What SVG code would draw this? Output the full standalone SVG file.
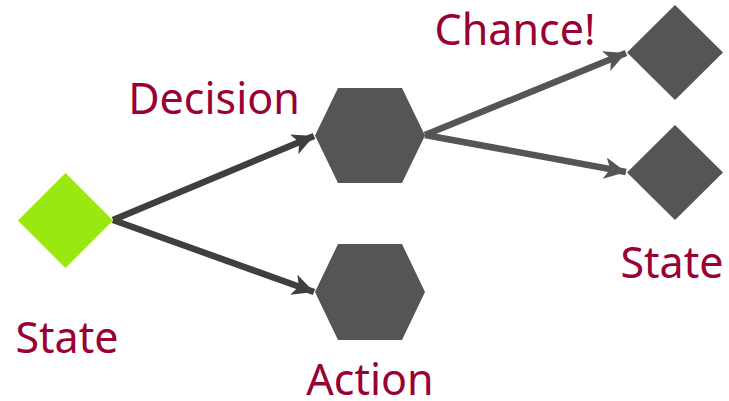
<svg xmlns="http://www.w3.org/2000/svg" width="729" height="401" viewBox="0 0 729 401">
  <defs>
    <marker id="headDark" viewBox="0 0 10 10" refX="10" refY="5" markerWidth="3.3" markerHeight="3.3" orient="auto" markerUnits="strokeWidth">
      <path d="M0,0 L10,5 L0,10 L2.5,5 Z" fill="#3f3f3f"/>
    </marker>
    <marker id="headGrey" viewBox="0 0 10 10" refX="10" refY="5" markerWidth="3.3" markerHeight="3.3" orient="auto" markerUnits="strokeWidth">
      <path d="M0,0 L10,5 L0,10 L2.5,5 Z" fill="#555555"/>
    </marker>
  </defs>
  <style>
    .label { font-family: "Noto Sans", "Open Sans", sans-serif; font-size: 43px; fill: #990033; text-anchor: middle; }
    .shape { fill: #555555; }
    .start { fill: #99e80f; }
    .edge-dark { stroke: #3f3f3f; stroke-width: 6.5; fill: none; marker-end: url(#headDark); }
    .edge-grey { stroke: #555555; stroke-width: 6.5; fill: none; marker-end: url(#headGrey); }
  </style>
  <rect width="729" height="401" fill="#ffffff"/>

  <g id="connectors">
    <line class="edge-dark" x1="113" y1="220" x2="314" y2="136"/>
    <line class="edge-dark" x1="113" y1="220" x2="314" y2="292"/>
    <line class="edge-grey" x1="425" y1="135" x2="626" y2="53"/>
    <line class="edge-grey" x1="425" y1="135" x2="626" y2="172"/>
  </g>

  <g id="state-start">
    <polygon class="start" points="65.5,173 113,220.5 65.5,268 18,220.5"/>
    <text class="label" x="67" y="353">State</text>
  </g>

  <g id="decision">
    <polygon class="shape" points="315,135.5 338,88 402,88 425,135.5 402,183 338,183"/>
    <text class="label" x="214" y="114">Decision</text>
  </g>

  <g id="action">
    <polygon class="shape" points="315,292 338,244 402,244 425,292 402,340 338,340"/>
    <text class="label" x="370" y="395">Action</text>
  </g>

  <g id="chance-state">
    <polygon class="shape" points="675,5 723,52.5 675,100 627,52.5"/>
    <text class="label" x="515" y="45">Chance!</text>
  </g>

  <g id="state-end">
    <polygon class="shape" points="675,125 723,172.5 675,220 627,172.5"/>
    <text class="label" x="672" y="278">State</text>
  </g>
</svg>
